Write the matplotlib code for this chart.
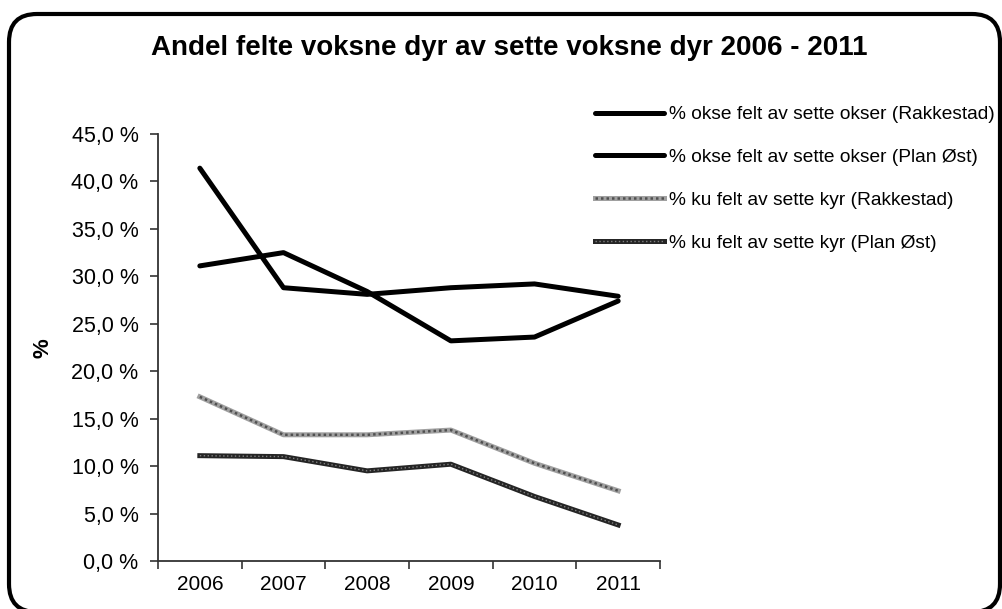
import numpy as np
import matplotlib
matplotlib.use("Agg")
from matplotlib import pyplot as plt
from matplotlib.patches import FancyBboxPatch
from matplotlib.ticker import FixedLocator, FuncFormatter
from matplotlib.transforms import IdentityTransform

plt.rcParams['font.family'] = ['Liberation Sans', 'DejaVu Sans']

years = ['2006', '2007', '2008', '2009', '2010', '2011']
okse_rakkestad = [31.1, 32.5, 28.4, 23.2, 23.6, 27.4]
okse_plan_ost = [41.4, 28.8, 28.1, 28.8, 29.2, 27.9]
ku_rakkestad = [17.3, 13.3, 13.3, 13.8, 10.3, 7.4]
ku_plan_ost = [11.1, 11.0, 9.5, 10.2, 6.8, 3.8]
labels = ['% okse felt av sette okser (Rakkestad)',
          '% okse felt av sette okser (Plan Øst)',
          '% ku felt av sette kyr (Rakkestad)',
          '% ku felt av sette kyr (Plan Øst)']

W, H = 1003, 609
fig = plt.figure(figsize=(W / 100, H / 100), dpi=100)
ax = fig.add_axes([158 / W, 1 - 561 / H, (660 - 158) / W, (561 - 134) / H])

x = np.arange(len(years))
h1, = ax.plot(x, okse_rakkestad, color='black', lw=3.6, solid_capstyle='round')
h2, = ax.plot(x, okse_plan_ost, color='black', lw=3.6, solid_capstyle='round')
h3a, = ax.plot(x, ku_rakkestad, color='#a0a0a0', lw=3.6)
h3b, = ax.plot(x, ku_rakkestad, color='#505050', lw=1.8, ls=(0, (1, 1.2)))
h4a, = ax.plot(x, ku_plan_ost, color='#252525', lw=3.6)
h4b, = ax.plot(x, ku_plan_ost, color='#808080', lw=1.0, ls=(0, (1, 1.8)))

ax.set_xlim(-0.5, len(years) - 0.5)
ax.set_ylim(0, 45)
ax.xaxis.set_major_locator(FixedLocator(np.arange(-0.5, len(years), 1.0)))
ax.xaxis.set_major_formatter(FuncFormatter(lambda v, p: ''))
ax.xaxis.set_minor_locator(FixedLocator(x))
ax.set_xticklabels(years, minor=True)
ax.tick_params(axis='x', which='minor', length=0, pad=10, labelsize=15)
ax.tick_params(axis='x', which='major', length=6, width=1.2, color='#333333')
ax.set_yticks(np.arange(0, 46, 5))
ax.yaxis.set_major_formatter(FuncFormatter(lambda v, p: f'{v:.1f} %'.replace('.', ',')))
ax.tick_params(axis='y', length=6, width=1.2, color='#333333', labelsize=15.5, pad=8)
for s in ['top', 'right']:
    ax.spines[s].set_visible(False)
for s in ['left', 'bottom']:
    ax.spines[s].set_color('#333333')
    ax.spines[s].set_linewidth(1.3)

fig.text(43 / W, 1 - 348 / H, '%', rotation=90, fontsize=16, fontweight='bold',
         ha='center', va='center')
fig.text(509 / W, 1 - 48 / H, 'Andel felte voksne dyr av sette voksne dyr 2006 - 2011',
         fontsize=20, fontweight='bold', ha='center', va='center')

fig.legend([h1, h2, (h3a, h3b), (h4a, h4b)], labels, loc='upper left',
           bbox_to_anchor=(595 / W, 1 - 106 / H), frameon=False, fontsize=13.8,
           handlelength=3.6, handletextpad=0.25, labelspacing=1.32,
           borderpad=0, borderaxespad=0)

border = FancyBboxPatch((9, -3), 991, 598, boxstyle='round,pad=0,rounding_size=28',
                        transform=IdentityTransform(), fill=False, lw=3, ec='black')
fig.patches.append(border)

fig.savefig('out.png', dpi=100)
